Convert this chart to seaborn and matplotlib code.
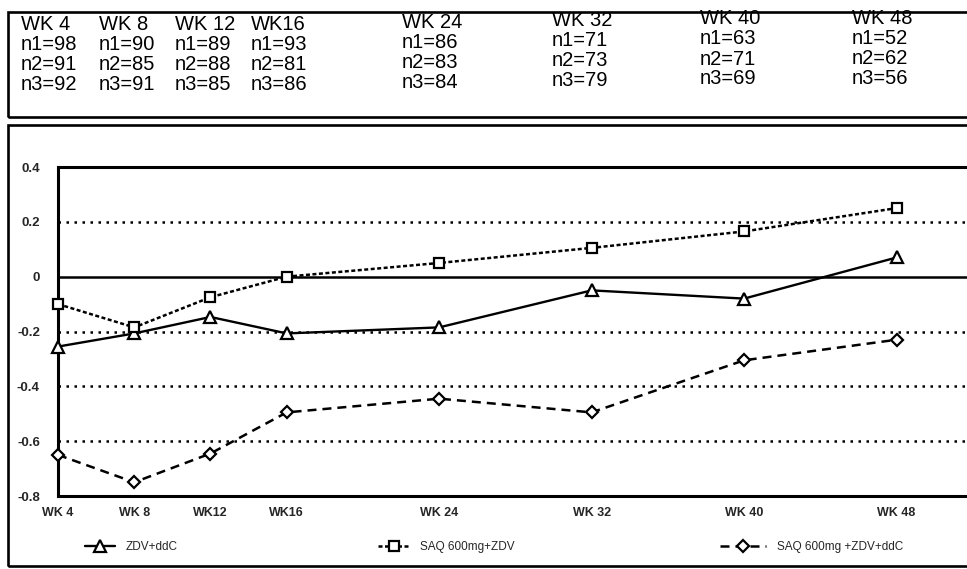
import matplotlib
matplotlib.use("Agg")
import matplotlib.pyplot as plt
import seaborn as sns
import pandas as pd
from matplotlib.patches import Rectangle

# ---------------- data ----------------
weeks = [4, 8, 12, 16, 24, 32, 40, 48]
tick_labels = ["WK 4", "WK 8", "WK12", "WK16", "WK 24", "WK 32", "WK 40", "WK 48"]
header_labels = ["WK 4", "WK 8", "WK 12", "WK16", "WK 24", "WK 32", "WK 40", "WK 48"]
n1 = [98, 90, 89, 93, 86, 71, 63, 52]
n2 = [91, 85, 88, 81, 83, 73, 71, 62]
n3 = [92, 91, 85, 86, 84, 79, 69, 56]

series_names = ["ZDV+ddC", "SAQ 600mg+ZDV", "SAQ 600mg +ZDV+ddC"]
zdv_ddc = [-0.255, -0.207, -0.147, -0.207, -0.185, -0.05, -0.08, 0.07]
saq_zdv = [-0.10, -0.185, -0.075, 0.0, 0.05, 0.105, 0.165, 0.25]
saq_zdv_ddc = [-0.65, -0.75, -0.645, -0.495, -0.445, -0.495, -0.305, -0.23]

y_ticks = [0.4, 0.2, 0, -0.2, -0.4, -0.6, -0.8]
y_tick_labels = ["0.4", "0.2", "0", "-0.2", "-0.4", "-0.6", "-0.8"]
grid_levels = [0.2, -0.2, -0.4, -0.6]

# ---------------- style ----------------
sns.set_style("white")
plt.rcParams["font.family"] = ["Liberation Sans", "DejaVu Sans"]

W, H = 967, 569
fig = plt.figure(figsize=(W / 100, H / 100), dpi=100)

def fx(px):
    return px / W

def fy(py):
    return 1 - py / H

# outer boxes (scanned-page frames)
fig.add_artist(Rectangle((fx(8), fy(117)), 1.0, (117 - 12) / H,
                         transform=fig.transFigure, fill=False, lw=1.9, ec="black"))
fig.add_artist(Rectangle((fx(8), fy(566)), 1.0, (566 - 125) / H,
                         transform=fig.transFigure, fill=False, lw=1.9, ec="black"))

# header table of n values
col_x = [21, 99, 175, 251, 402, 552, 700, 852]
col_dy = [0, 0, 0, 0, -2, -4, -6, -7]
row_y = [23, 43, 63, 83]
for i in range(len(weeks)):
    rows = [header_labels[i], f"n1={n1[i]}", f"n2={n2[i]}", f"n3={n3[i]}"]
    for r, s in enumerate(rows):
        fig.text(fx(col_x[i]), fy(row_y[r] + col_dy[i]), s, fontsize=14.5,
                 ha="left", va="center_baseline", color="black")

# ---------------- axes ----------------
ax = fig.add_axes([fx(58), fy(496), 1 - fx(58) + 0.01, (496 - 167) / H])
ax.set_facecolor("white")

for lvl in grid_levels:
    ax.axhline(lvl, color="black", lw=1.8, linestyle=(0, (1, 2.2)), zorder=1)
ax.axhline(0, color="black", lw=1.8, linestyle="-", zorder=2)

df = pd.DataFrame({"week": weeks * 3,
                   "value": zdv_ddc + saq_zdv + saq_zdv_ddc,
                   "series": sum([[n] * len(weeks) for n in series_names], [])})

styles = {
    "ZDV+ddC": dict(marker="^", markersize=8, linestyle="-", linewidth=1.7),
    "SAQ 600mg+ZDV": dict(marker="s", markersize=6.5, linestyle=(0, (1.6, 1.0)), linewidth=1.8),
    "SAQ 600mg +ZDV+ddC": dict(marker="D", markersize=6.5, linestyle=(0, (3.6, 2.4)), linewidth=1.8),
}

handles = []
for name in series_names:
    sub = df[df["series"] == name]
    sns.lineplot(data=sub, x="week", y="value", ax=ax, color="black",
                 markerfacecolor="white", markeredgecolor="black",
                 markeredgewidth=1.6, legend=False, zorder=5, clip_on=False,
                 **styles[name])
    handles.append(ax.lines[-1])

ax.set_xlim(4, 52.2)
ax.set_ylim(-0.8, 0.4)
ax.set_xlabel("")
ax.set_ylabel("")

ax.set_yticks(y_ticks)
ax.set_yticklabels(y_tick_labels, fontsize=9.5, fontweight="bold")
ax.set_xticks(weeks)
ax.set_xticklabels(tick_labels, fontsize=9, fontweight="bold")
ax.tick_params(axis="y", length=0, pad=13)
ax.tick_params(axis="x", length=0, pad=8)

for side in ["left", "top", "bottom"]:
    ax.spines[side].set_visible(True)
    ax.spines[side].set_color("black")
    ax.spines[side].set_linewidth(2.2)
ax.spines["right"].set_visible(False)

# legend: three separate entries spread along the bottom
leg_pos = [85, 378, 720]
leg_hl = [2.5, 2.7, 3.9]
for h, name, xp, hl in zip(handles, series_names, leg_pos, leg_hl):
    fig.legend(handles=[h], labels=[name], loc="center left",
               bbox_to_anchor=(fx(xp), fy(547)), frameon=False, fontsize=8.5,
               handlelength=hl, handletextpad=0.9, borderpad=0,
               borderaxespad=0, numpoints=1)

fig.savefig("out.png", dpi=100, facecolor="white")
